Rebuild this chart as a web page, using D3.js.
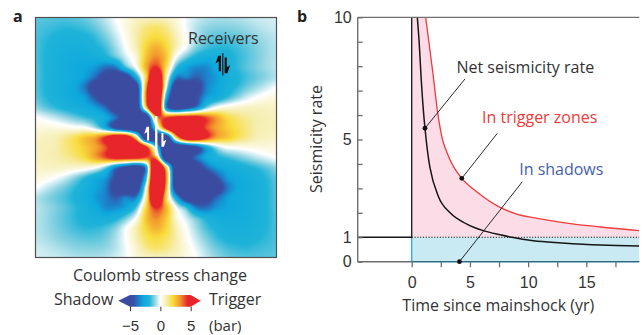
<!DOCTYPE html>
<html>
<head>
<meta charset="utf-8">
<script src="https://cdn.jsdelivr.net/npm/d3@7"></script>
<style>
  html, body { margin: 0; padding: 0; background: #fff; }
  svg { display: block; font-family: 'Open Sans', 'DejaVu Sans', sans-serif; }
</style>
</head>
<body>
<svg id="fig" width="642" height="335"></svg>
<script>
// ---------------- Panel a: Coulomb stress change (bar), 25 x 25 nodes, rows top to bottom
const stressRows = [
  [-1.3, -1.35, -1.4, -1.4, -1.35, -1.2, -0.9, -0.5, 0.0, 0.35, 0.7, 0.75, 0.8, 0.7, 0.45, -0.1, -0.4, -0.6, -0.7, -0.7, -0.65, -0.55, -0.45, -0.4, -0.35],
  [-1.4, -1.5, -1.6, -1.7, -1.65, -1.5, -1.2, -0.75, -0.2, 0.35, 0.9, 1.4, 1.6, 1.3, 0.6, -0.1, -0.6, -0.9, -1.0, -1.0, -0.95, -0.8, -0.65, -0.5, -0.4],
  [-1.45, -1.65, -1.85, -2.0, -2.0, -1.9, -1.6, -1.1, -0.5, 0.2, 1.0, 1.7, 2.0, 1.7, 0.9, 0.0, -0.7, -1.15, -1.35, -1.35, -1.25, -1.1, -0.9, -0.7, -0.55],
  [-1.45, -1.75, -2.0, -2.15, -2.2, -2.15, -1.9, -1.5, -0.8, 0.0, 0.9, 2.1, 2.8, 2.1, 0.9, -0.1, -1.0, -1.5, -1.7, -1.7, -1.55, -1.3, -1.05, -0.8, -0.6],
  [-1.45, -1.8, -2.1, -2.3, -2.4, -2.45, -2.35, -2.0, -1.3, -0.4, 0.5, 2.4, 3.4, 2.4, 0.0, -1.2, -2.0, -2.3, -2.2, -2.0, -1.7, -1.4, -1.1, -0.8, -0.6],
  [-1.4, -1.8, -2.1, -2.4, -2.6, -2.8, -3.1, -3.8, -3.6, -1.5, 0.0, 2.8, 4.5, 2.0, -1.5, -2.8, -3.3, -3.3, -2.6, -2.1, -1.7, -1.35, -1.05, -0.8, -0.55],
  [-1.4, -1.8, -2.1, -2.35, -2.6, -3.0, -4.0, -5.3, -5.8, -5.5, -2.5, 2.0, 8.0, 1.0, -3.5, -3.5, -4.2, -3.5, -3.0, -2.3, -1.9, -1.5, -1.2, -0.9, -0.6],
  [-1.4, -1.8, -2.15, -2.45, -2.8, -3.8, -5.8, -6.5, -6.5, -6.5, -6.0, 3.0, 10.0, 0.0, -6.0, -6.5, -5.5, -3.5, -2.8, -2.2, -1.7, -1.2, -0.8, -0.4, 0.0],
  [-1.3, -1.7, -2.05, -2.35, -2.65, -3.1, -4.5, -6.0, -6.5, -6.5, -6.5, 3.5, 10.0, -2.0, -6.5, -6.5, -4.8, -3.0, -2.5, -1.7, -1.0, -0.4, 0.0, 0.3, 0.4],
  [-0.9, -1.3, -1.65, -1.95, -2.25, -2.55, -3.0, -4.0, -5.8, -6.5, -6.5, 2.0, 10.0, -3.0, -6.0, -5.0, -3.5, -1.2, 0.0, 0.4, 0.6, 0.7, 0.75, 0.75, 0.7],
  [0.0, -0.25, -0.55, -0.9, -1.25, -1.6, -2.0, -2.6, -3.8, -5.5, -6.5, -7.0, 3.0, 4.0, 5.0, 5.0, 5.0, 4.0, 3.0, 2.0, 1.5, 1.2, 1.0, 0.9, 0.8],
  [0.4, 0.4, 0.35, 0.25, 0.1, 0.0, -0.8, -2.5, -5.0, -6.5, -7.0, -7.0, -1.0, 5.0, 8.0, 7.0, 6.0, 4.0, 3.0, 2.3, 1.8, 1.4, 1.0, 0.9, 0.85],
  [0.7, 0.8, 0.9, 1.3, 1.8, 2.4, 3.0, 4.5, 6.5, 6.5, 2.0, -6.5, -6.0, -6.5, 2.0, 6.5, 6.5, 4.5, 3.0, 2.4, 1.8, 1.3, 0.9, 0.8, 0.7],
  [0.85, 0.9, 1.0, 1.4, 1.8, 2.3, 3.0, 4.0, 6.0, 7.0, 8.0, 5.0, -1.0, -7.0, -7.0, -6.5, -5.0, -2.5, -0.8, 0.0, 0.1, 0.25, 0.35, 0.4, 0.4],
  [0.8, 0.9, 1.0, 1.2, 1.5, 2.0, 3.0, 4.0, 5.0, 5.0, 5.0, 4.0, 3.0, -7.0, -6.5, -5.5, -3.8, -2.6, -2.0, -1.6, -1.25, -0.9, -0.55, -0.25, 0.0],
  [0.7, 0.75, 0.75, 0.7, 0.6, 0.4, 0.0, -1.2, -3.5, -5.0, -6.0, -3.0, 10.0, 2.0, -6.5, -6.5, -5.8, -4.0, -3.0, -2.55, -2.25, -1.95, -1.65, -1.3, -0.9],
  [0.4, 0.3, 0.0, -0.4, -1.0, -1.7, -2.5, -3.0, -4.8, -6.5, -6.5, -2.0, 10.0, 3.5, -6.5, -6.5, -6.5, -6.0, -4.5, -3.1, -2.65, -2.35, -2.05, -1.7, -1.3],
  [0.0, -0.4, -0.8, -1.2, -1.7, -2.2, -2.8, -3.5, -5.5, -6.5, -6.0, 0.0, 10.0, 3.0, -6.0, -6.5, -6.5, -6.5, -5.8, -3.8, -2.8, -2.45, -2.15, -1.8, -1.4],
  [-0.6, -0.9, -1.2, -1.5, -1.9, -2.3, -3.0, -3.5, -4.2, -3.5, -3.5, 1.0, 8.0, 2.0, -2.5, -5.5, -5.8, -5.3, -4.0, -3.0, -2.6, -2.35, -2.1, -1.8, -1.4],
  [-0.55, -0.8, -1.05, -1.35, -1.7, -2.1, -2.6, -3.3, -3.3, -2.8, -1.5, 2.0, 4.5, 2.8, 0.0, -1.5, -3.6, -3.8, -3.1, -2.8, -2.6, -2.4, -2.1, -1.8, -1.4],
  [-0.6, -0.8, -1.1, -1.4, -1.7, -2.0, -2.2, -2.3, -2.0, -1.2, 0.0, 2.4, 3.4, 2.4, 0.5, -0.4, -1.3, -2.0, -2.35, -2.45, -2.4, -2.3, -2.1, -1.8, -1.45],
  [-0.6, -0.8, -1.05, -1.3, -1.55, -1.7, -1.7, -1.5, -1.0, -0.1, 0.9, 2.1, 2.8, 2.1, 0.9, 0.0, -0.8, -1.5, -1.9, -2.15, -2.2, -2.15, -2.0, -1.75, -1.45],
  [-0.55, -0.7, -0.9, -1.1, -1.25, -1.35, -1.35, -1.15, -0.7, 0.0, 0.9, 1.7, 2.0, 1.7, 1.0, 0.2, -0.5, -1.1, -1.6, -1.9, -2.0, -2.0, -1.85, -1.65, -1.45],
  [-0.4, -0.5, -0.65, -0.8, -0.95, -1.0, -1.0, -0.9, -0.6, -0.1, 0.6, 1.3, 1.6, 1.4, 0.9, 0.35, -0.2, -0.75, -1.2, -1.5, -1.65, -1.7, -1.6, -1.5, -1.4],
  [-0.35, -0.4, -0.45, -0.55, -0.65, -0.7, -0.7, -0.6, -0.4, -0.1, 0.45, 0.7, 0.8, 0.75, 0.7, 0.35, 0.0, -0.5, -0.9, -1.2, -1.35, -1.4, -1.4, -1.35, -1.3]
];
const stressStops  = [-5, -4.4, -3.6, -2.8, -1.8, -1, 0, 1, 2, 3.2, 4.5];
const stressColors = ['#3b4ba0', '#3553a6', '#1f7cc7', '#0ea8dd', '#1eb3d8', '#86d1e0', '#ffffff',
                      '#f6eeb0', '#f8dc3c', '#f39a2c', '#e8252a'];
const colorbarTicks = [-5, 0, 5];

// ---------------- Panel b: seismicity rate vs time since mainshock (yr)
const netTime     = [0.48, 0.65, 0.8, 1.0, 1.14, 1.45, 1.57, 2.3, 3.3, 4.7, 6.15, 7.6, 8.6, 10.45, 12.9, 16.2, 19.55];
const netRate     = [10, 8.9, 7.6, 6.2, 5.46, 4.2, 3.85, 2.66, 2.0, 1.55, 1.27, 1.1, 1.0, 0.86, 0.77, 0.68, 0.64];
const triggerTime = [1.2, 1.5, 1.85, 2.2, 2.62, 3.0, 3.58, 4.3, 5.58, 7.59, 9.02, 10.45, 13.3, 16.2, 19.55];
const triggerRate = [10, 8.9, 7.6, 6.2, 5.05, 4.5, 3.9, 3.41, 2.86, 2.22, 1.95, 1.8, 1.58, 1.42, 1.27];
const backgroundRate = 1;
const yTickValues = [0, 1, 2, 3, 4, 5, 6, 7, 8, 9, 10];
const yTickLabels = [0, 1, 5, 10];
const xTickValues = [0, 2.5, 5, 7.5, 10, 12.5, 15, 17.5];
const xTickLabels = [0, 5, 10, 15];
// marked points on the curves: [time, rate]
const netMarker     = [1.14, 5.46];
const triggerMarker = [4.3, 3.41];
const shadowMarker  = [4.1, 0];

// ---------------- drawing
const svg = d3.select('#fig');
const textColor = '#333';

// ===== Panel a =====
const mapX = d3.scaleLinear().domain([0, 24]).range([35, 277]);
const mapY = d3.scaleLinear().domain([0, 24]).range([17, 258]);
const stressColor = d3.scaleLinear().domain(stressStops).range(stressColors).clamp(true);

(function drawStressMap() {
  const x0 = 35, y0 = 17, W = 242, H = 241;
  const nR = stressRows.length, nC = stressRows[0].length;
  const canvas = document.createElement('canvas');
  canvas.width = W; canvas.height = H;
  const ctx = canvas.getContext('2d');
  const img = ctx.createImageData(W, H);
  const at = (r, c) => stressRows[Math.max(0, Math.min(nR - 1, r))][Math.max(0, Math.min(nC - 1, c))];
  // Catmull-Rom weights between grid nodes
  const cr = (p0, p1, p2, p3, t) =>
    p1 + 0.5 * t * (p2 - p0 + t * (2 * p0 - 5 * p1 + 4 * p2 - p3 + t * (3 * (p1 - p2) + p3 - p0)));
  for (let py = 0; py < H; py++) {
    const gy = mapY.invert(y0 + py + 0.5);
    const r = Math.floor(gy), fy = gy - r;
    for (let px = 0; px < W; px++) {
      const gx = mapX.invert(x0 + px + 0.5);
      const c = Math.floor(gx), fx = gx - c;
      const rowsV = [];
      for (let k = -1; k <= 2; k++) {
        rowsV.push(cr(at(r + k, c - 1), at(r + k, c), at(r + k, c + 1), at(r + k, c + 2), fx));
      }
      const v = cr(rowsV[0], rowsV[1], rowsV[2], rowsV[3], fy);
      const col = d3.rgb(stressColor(v));
      const idx = (py * W + px) * 4;
      img.data[idx] = col.r; img.data[idx + 1] = col.g; img.data[idx + 2] = col.b; img.data[idx + 3] = 255;
    }
  }
  ctx.putImageData(img, 0, 0);
  svg.append('image')
    .attr('x', x0).attr('y', y0).attr('width', W).attr('height', H)
    .attr('preserveAspectRatio', 'none')
    .attr('href', canvas.toDataURL());
  svg.append('rect')
    .attr('x', x0 + 0.5).attr('y', y0 + 0.5).attr('width', W - 1).attr('height', H - 1)
    .attr('fill', 'none').attr('stroke', '#505050').attr('stroke-width', 1.2);
})();

// half-arrow glyph (slip sense), drawn around its own centre
const halfArrow = 'M1.6,-6.5 L1.6,6 L-0.2,6 L-0.2,-1.8 L-2.8,-0.2 L-0.6,-6.5 Z';

// source fault with slip arrows
svg.append('rect').attr('x', 155.1).attr('y', 116).attr('width', 2.3).attr('height', 40).attr('fill', '#fff');
svg.append('path').attr('d', halfArrow).attr('fill', '#fff')
  .attr('transform', 'translate(147.3,134) scale(1.1)');
svg.append('path').attr('d', halfArrow).attr('fill', '#fff')
  .attr('transform', 'translate(163.2,139.5) rotate(180) scale(1.1)');

// receiver fault symbol
svg.append('text').attr('x', 188).attr('y', 43.5).attr('font-size', 16).attr('fill', textColor).text('Receivers');
svg.append('line').attr('x1', 222.8).attr('x2', 222.8).attr('y1', 53).attr('y2', 75.5)
  .attr('stroke', '#111').attr('stroke-width', 1.1);
svg.append('path').attr('d', halfArrow).attr('fill', '#111')
  .attr('transform', 'translate(219,63.8) scale(1.25)');
svg.append('path').attr('d', halfArrow).attr('fill', '#111')
  .attr('transform', 'translate(226.6,65) rotate(180) scale(1.25)');

// panel letter
svg.append('text').attr('x', 13).attr('y', 21.7).attr('font-size', 16).attr('font-weight', 'bold')
  .attr('fill', '#222').text('a');

// colour bar
svg.append('text').attr('x', 160).attr('y', 280.5).attr('text-anchor', 'middle')
  .attr('font-size', 16).attr('fill', textColor).text('Coulomb stress change');
const cbX = d3.scaleLinear().domain([-5, 5]).range([130, 190.7]);
const defs = svg.append('defs');
const grad = defs.append('linearGradient').attr('id', 'cbGrad')
  .attr('gradientUnits', 'userSpaceOnUse')
  .attr('x1', cbX(-5)).attr('x2', cbX(5)).attr('y1', 0).attr('y2', 0);
stressStops.forEach((s, k) => {
  grad.append('stop').attr('offset', (cbX(s) - cbX(-5)) / (cbX(5) - cbX(-5))).attr('stop-color', stressColors[k]);
});
const cbTop = 295, cbBot = 306.7, cbMid = (cbTop + cbBot) / 2;
svg.append('path')
  .attr('d', `M${cbX(-5) - 11.7},${cbMid} L${cbX(-5)},${cbTop} L${cbX(5)},${cbTop} L${cbX(5) + 10},${cbMid} L${cbX(5)},${cbBot} L${cbX(-5)},${cbBot} Z`)
  .attr('fill', 'url(#cbGrad)');
const cbAxis = svg.append('g').attr('transform', `translate(0,${cbBot})`)
  .call(d3.axisBottom(cbX).tickValues(colorbarTicks).tickSize(4.5).tickPadding(9).tickFormat(d3.format('d')));
cbAxis.select('.domain').remove();
cbAxis.selectAll('line').attr('stroke', '#333').attr('stroke-width', 1);
cbAxis.selectAll('text').attr('font-size', 15).attr('fill', textColor).attr('font-family', null);
svg.append('text').attr('x', 113.3).attr('y', 305).attr('text-anchor', 'end')
  .attr('font-size', 16).attr('fill', textColor).text('Shadow');
svg.append('text').attr('x', 209).attr('y', 305)
  .attr('font-size', 16).attr('fill', textColor).text('Trigger');
svg.append('text').attr('x', 209).attr('y', 331)
  .attr('font-size', 15).attr('fill', textColor).text('(bar)');

// ===== Panel b =====
const x = d3.scaleLinear().domain([-4.64, 19.55]).range([357.7, 639.3]);
const y = d3.scaleLinear().domain([0, 10]).range([261.7, 17.3]);
const tEnd = x.domain()[1];
const axisGrey = '#6f6f6f';

defs.append('clipPath').attr('id', 'plotClip').append('rect')
  .attr('x', x(0)).attr('y', y(10)).attr('width', x(tEnd) - x(0)).attr('height', y(0) - y(10));

const netPts = netTime.map((t, k) => [t, netRate[k]]);
const trigPts = triggerTime.map((t, k) => [t, triggerRate[k]]);
const curve = d3.line().x(d => x(d[0])).y(d => y(d[1])).curve(d3.curveMonotoneX);

const plot = svg.append('g').attr('clip-path', 'url(#plotClip)');

// trigger-zone excess (pink) between background rate and trigger curve
const trigPath = curve(trigPts);
plot.append('path')
  .attr('d', `M${x(0)},${y(backgroundRate)} L${x(0)},${y(10)} L` + trigPath.slice(1) +
             ` L${x(tEnd)},${y(backgroundRate)} Z`)
  .attr('fill', '#fcdde7');
// shadow deficit region (blue)
plot.append('rect')
  .attr('x', x(0)).attr('y', y(backgroundRate))
  .attr('width', x(tEnd) - x(0)).attr('height', y(0) - y(backgroundRate))
  .attr('fill', '#c9e9f3');
svg.append('line').attr('x1', x(0)).attr('x2', x(0)).attr('y1', y(0)).attr('y2', y(backgroundRate))
  .attr('stroke', '#29a9dd').attr('stroke-width', 1.3);

// background-rate reference (dotted)
plot.append('line').attr('x1', x(0)).attr('x2', x(tEnd))
  .attr('y1', y(backgroundRate)).attr('y2', y(backgroundRate))
  .attr('stroke', '#111').attr('stroke-width', 1.1).attr('stroke-dasharray', '1.2,1.6');

// trigger curve
plot.append('path').attr('d', trigPath).attr('fill', 'none')
  .attr('stroke', '#ee3b3b').attr('stroke-width', 1.3);
// net curve
plot.append('path').attr('d', curve(netPts)).attr('fill', 'none')
  .attr('stroke', '#161616').attr('stroke-width', 1.5);
// pre-mainshock rate and jump at the mainshock
svg.append('path')
  .attr('d', `M${x(-4.64)},${y(backgroundRate)} L${x(0)},${y(backgroundRate)} L${x(0)},${y(10)}`)
  .attr('fill', 'none').attr('stroke', '#161616').attr('stroke-width', 1.3);

// axes frame
svg.append('line').attr('x1', x(-4.64)).attr('x2', x(-4.64)).attr('y1', y(10)).attr('y2', y(0))
  .attr('stroke', axisGrey).attr('stroke-width', 1.4);
svg.append('line').attr('x1', x(-4.64)).attr('x2', x(tEnd)).attr('y1', y(10)).attr('y2', y(10))
  .attr('stroke', axisGrey).attr('stroke-width', 1.3);
svg.append('line').attr('x1', x(-4.64)).attr('x2', x(0)).attr('y1', y(0)).attr('y2', y(0))
  .attr('stroke', axisGrey).attr('stroke-width', 1.4);
svg.append('line').attr('x1', x(0)).attr('x2', x(tEnd)).attr('y1', y(0)).attr('y2', y(0))
  .attr('stroke', '#2f6c86').attr('stroke-width', 1.5);

// y axis ticks (inward) and labels
const yAxis = svg.append('g').attr('transform', `translate(${x(-4.64)},0)`)
  .call(d3.axisLeft(y).tickValues(yTickValues).tickSizeInner(-5).tickSizeOuter(0).tickPadding(6)
    .tickFormat(d => yTickLabels.includes(d) ? d3.format('d')(d) : ''));
yAxis.select('.domain').remove();
yAxis.selectAll('line').attr('stroke', axisGrey).attr('stroke-width', 1.3);
yAxis.selectAll('text').attr('font-size', 16).attr('fill', textColor).attr('font-family', null);

// x axis ticks (outward) and labels
const xAxis = svg.append('g').attr('transform', `translate(0,${y(0)})`)
  .call(d3.axisBottom(x).tickValues(xTickValues).tickSize(5.5).tickPadding(9)
    .tickFormat(d => xTickLabels.includes(d) ? d3.format('d')(d) : ''));
xAxis.select('.domain').remove();
xAxis.selectAll('line').attr('stroke', axisGrey).attr('stroke-width', 1.3);
xAxis.selectAll('text').attr('font-size', 16).attr('fill', textColor).attr('font-family', null);

// axis titles
svg.append('text').attr('x', 498.3).attr('y', 311).attr('text-anchor', 'middle')
  .attr('font-size', 16).attr('fill', textColor).text('Time since mainshock (yr)');
svg.append('text').attr('transform', 'translate(322,139) rotate(-90)').attr('text-anchor', 'middle')
  .attr('font-size', 16).attr('fill', textColor).text('Seismicity rate');

// panel letter
svg.append('text').attr('x', 297).attr('y', 21.7).attr('font-size', 16).attr('font-weight', 'bold')
  .attr('fill', '#222').text('b');

// callouts: label, leader end (data coords), marker
const callouts = [
  { text: 'Net seismicity rate', color: textColor, tx: 525.3, ty: 72.7, lead: [4.58, 7.48], mark: netMarker },
  { text: 'In trigger zones', color: '#ee3b3b', tx: 539.7, ty: 122.7, lead: [7.35, 5.25], mark: triggerMarker },
  { text: 'In shadows', color: '#4560ad', tx: 561.3, ty: 175, lead: [9.5, 3.27], mark: shadowMarker }
];
callouts.forEach(c => {
  svg.append('line')
    .attr('x1', x(c.lead[0])).attr('y1', y(c.lead[1]))
    .attr('x2', x(c.mark[0])).attr('y2', y(c.mark[1]))
    .attr('stroke', '#111').attr('stroke-width', 0.9);
  svg.append('circle').attr('cx', x(c.mark[0])).attr('cy', y(c.mark[1])).attr('r', 2.4).attr('fill', '#111');
  svg.append('text').attr('x', c.tx).attr('y', c.ty).attr('text-anchor', 'middle')
    .attr('font-size', 16).attr('fill', c.color).text(c.text);
});
</script>
</body>
</html>
